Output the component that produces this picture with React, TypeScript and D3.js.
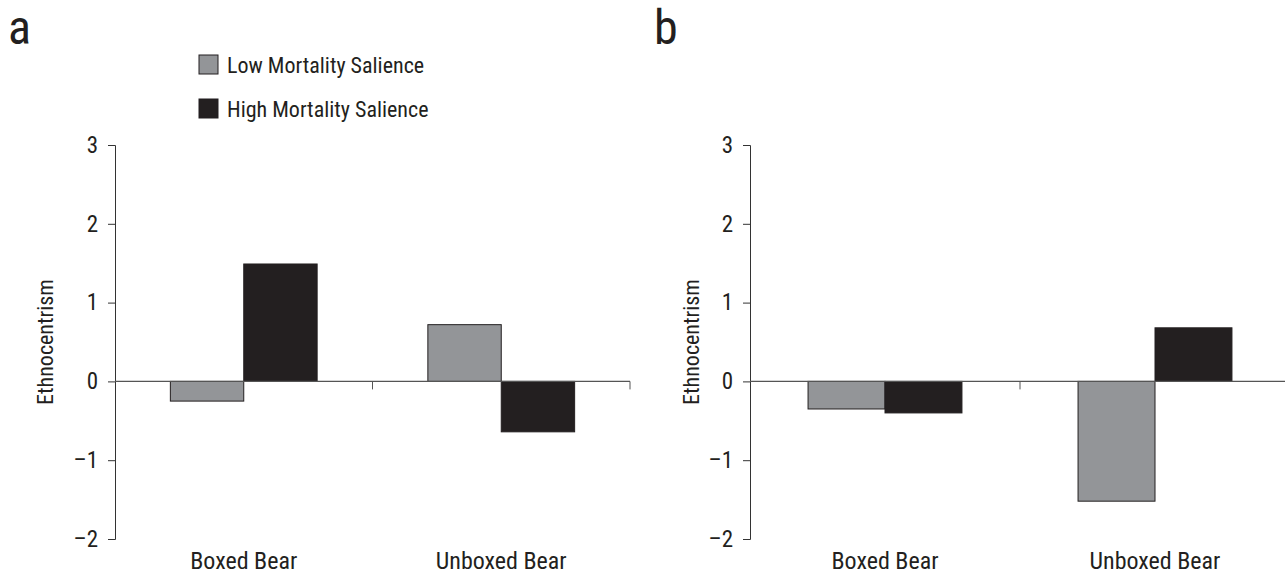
import * as d3 from "d3";
import React, { useEffect, useRef } from "react";

const categories = ["Boxed Bear", "Unboxed Bear"];
const seriesNames = ["Low Mortality Salience", "High Mortality Salience"];
const seriesColors = ["#939598", "#231f20"];
const yTicks = [-2, -1, 0, 1, 2, 3];

// panel a values [low, high] per category
const panelAValues = [
  [-0.25, 1.49],
  [0.72, -0.64],
];
// panel b values
const panelBValues = [
  [-0.35, -0.4],
  [-1.52, 0.68],
];

const FONT = "'Liberation Sans Narrow', 'Roboto Condensed', 'Arial Narrow', sans-serif";

const App = () => {
  const ref = useRef<HTMLDivElement>(null);

  useEffect(() => {
    document.body.style.margin = "0";
    const width = 1285;
    const height = 575;

    const svg = d3
      .create("svg")
      .attr("width", width)
      .attr("height", height)
      .style("font-family", FONT)
      .style("display", "block");

    const y = d3.scaleLinear().domain([-2, 3]).range([539, 145]);

    const drawPanel = (
      values: number[][],
      x0: number,
      x1: number,
      letter: string,
      letterX: number,
      labelX: number
    ) => {
      const g = svg.append("g");
      const x = d3.scaleBand<string>().domain(categories).range([x0, x1]).paddingInner(0.43).paddingOuter(0.215);
      const xs = d3.scaleBand<string>().domain(seriesNames).range([0, x.bandwidth()]).padding(0);

      // bars
      categories.forEach((c, i) => {
        seriesNames.forEach((s, j) => {
          const v = values[i][j];
          g.append("rect")
            .attr("x", x(c)! + xs(s)!)
            .attr("y", y(Math.max(0, v)))
            .attr("width", xs.bandwidth())
            .attr("height", Math.abs(y(v) - y(0)))
            .attr("fill", seriesColors[j])
            .attr("stroke", "#231f20")
            .attr("stroke-width", 1);
        });
      });

      // y axis
      const yAxis = g
        .append("g")
        .attr("transform", `translate(${x0},0)`)
        .call(
          d3
            .axisLeft(y)
            .tickValues(yTicks)
            .tickSize(7)
            .tickSizeOuter(7)
            .tickPadding(10)
            .tickFormat((d) => (+d < 0 ? "\u2013" + Math.abs(+d) : String(d)))
        );
      yAxis.selectAll("path, line").attr("stroke", "#333");
      yAxis.selectAll("text").style("font-family", FONT).style("font-size", "23px").attr("fill", "#231f20");

      // zero line with ticks between categories
      const step = x.step();
      g.append("line")
        .attr("x1", x0)
        .attr("x2", x1)
        .attr("y1", y(0))
        .attr("y2", y(0))
        .attr("stroke", "#555")
        .attr("stroke-width", 1.2);
      categories.forEach((c, i) => {
        const tx = x0 + step * (i + 1);
        g.append("line")
          .attr("x1", tx)
          .attr("x2", tx)
          .attr("y1", y(0))
          .attr("y2", y(0) + 8)
          .attr("stroke", "#555");
      });

      // category labels
      categories.forEach((c) => {
        g.append("text")
          .attr("x", x(c)! + x.bandwidth() / 2)
          .attr("y", 569)
          .attr("text-anchor", "middle")
          .style("font-size", "24px")
          .attr("fill", "#231f20")
          .text(c);
      });

      // y label
      g.append("text")
        .attr("transform", `translate(${labelX},342) rotate(-90)`)
        .attr("text-anchor", "middle")
        .style("font-size", "22px")
        .attr("fill", "#231f20")
        .text("Ethnocentrism");

      // panel letter
      g.append("text")
        .attr("x", letterX)
        .attr("y", 44)
        .style("font-size", "48px")
        .attr("fill", "#231f20")
        .text(letter);
    };

    drawPanel(panelAValues, 115, 630, "a", 8, 53);
    drawPanel(panelBValues, 750, 1290, "b", 654, 699);

    // legend
    seriesNames.forEach((s, j) => {
      svg
        .append("rect")
        .attr("x", 199)
        .attr("y", 55 + j * 44)
        .attr("width", 19)
        .attr("height", 19)
        .attr("fill", seriesColors[j])
        .attr("stroke", "#231f20")
        .attr("stroke-width", 1);
      svg
        .append("text")
        .attr("x", 227)
        .attr("y", 73 + j * 44)
        .style("font-size", "22px")
        .attr("fill", "#231f20")
        .text(s);
    });

    if (ref.current) {
      ref.current.innerHTML = "";
      ref.current.appendChild(svg.node()!);
    }
  }, []);

  return <div ref={ref}></div>;
};

export default App;
